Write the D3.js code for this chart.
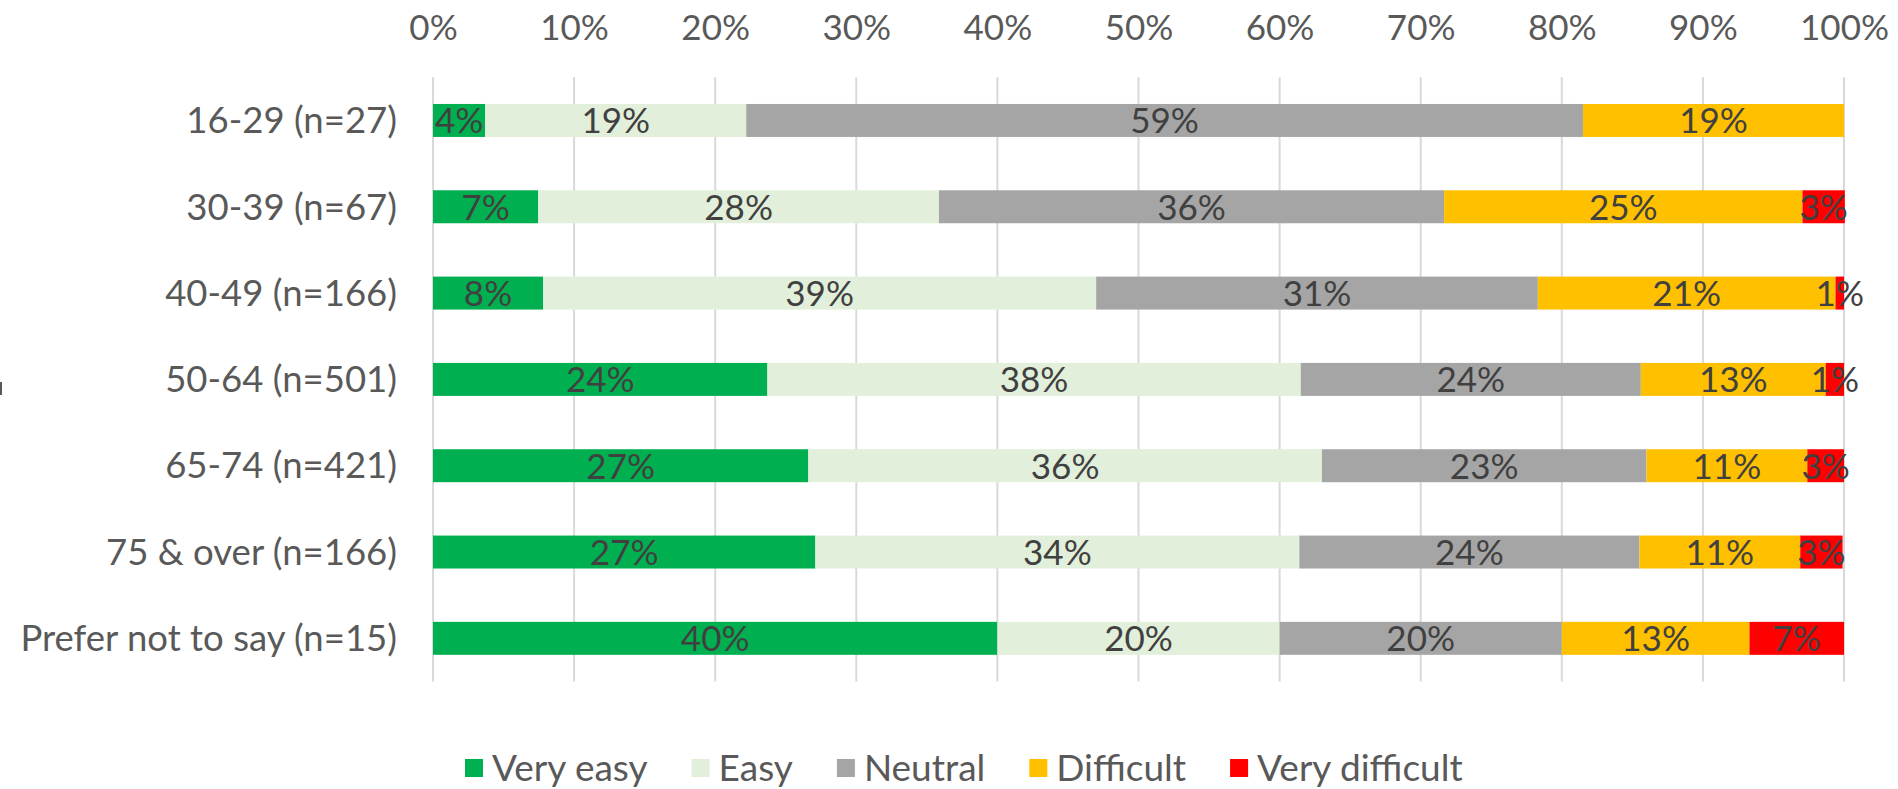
<!DOCTYPE html>
<html><head><meta charset="utf-8">
<script src="https://cdn.jsdelivr.net/npm/d3@7"></script>
<style>html,body{margin:0;padding:0;background:#fff;overflow:hidden}</style>
</head><body>
<svg id="chart" width="1898" height="789"></svg>
<script>
const categories = ["16-29 (n=27)","30-39 (n=67)","40-49 (n=166)","50-64 (n=501)","65-74 (n=421)","75 & over (n=166)","Prefer not to say (n=15)"];
const seriesNames = ["Very easy","Easy","Neutral","Difficult","Very difficult"];
const veryEasy      = [3.7, 7.46, 7.8, 23.7, 26.6, 27.1, 40.0];
const easy          = [18.5, 28.4, 39.2, 37.8, 36.4, 34.3, 20.0];
const neutral       = [59.3, 35.8, 31.3, 24.1, 23.0, 24.1, 20.0];
const difficult     = [18.5, 25.4, 21.1, 13.1, 11.4, 11.4, 13.3];
const veryDifficult = [0.0, 3.0, 0.6, 1.3, 2.6, 3.0, 6.7];
const tickValues = [0,10,20,30,40,50,60,70,80,90,100];
const colors = ["#00B050","#E2EFDA","#A5A5A5","#FFC000","#FF0000"];

const FONT = "Lato, 'Open Sans', sans-serif";
const FS = 35;
const FS_CAT = 36.5;
const FS_LEG = 37;
const svg = d3.select("#chart");
const plot = {left:433, right:1844, top:77.3, bottom:681.5};

const x = d3.scaleLinear().domain([0,100]).range([plot.left, plot.right]);
const y = d3.scaleBand().domain(categories).range([plot.top, plot.bottom]).paddingInner(0.618).paddingOuter(0.309);

const rows = categories.map((c,i)=>({cat:c, "Very easy":veryEasy[i], "Easy":easy[i], "Neutral":neutral[i], "Difficult":difficult[i], "Very difficult":veryDifficult[i]}));
const stacked = d3.stack().keys(seriesNames)(rows);

// gridlines
svg.append("g").selectAll("line").data(tickValues).join("line")
  .attr("x1", d=>x(d)).attr("x2", d=>x(d))
  .attr("y1", plot.top).attr("y2", plot.bottom)
  .attr("stroke", "#D9D9D9").attr("stroke-width", 2);

// top axis labels
const xAxis = d3.axisTop(x).tickValues(tickValues).tickFormat(d=>d+"%").tickSize(0).tickPadding(0);
const gx = svg.append("g").attr("transform", "translate(0,40)").call(xAxis);
gx.select(".domain").remove();
gx.selectAll("text").attr("font-family", FONT).attr("font-size", FS).attr("fill", "#595959");

// category labels
const yAxis = d3.axisLeft(y).tickSize(0).tickPadding(0);
const gy = svg.append("g").attr("transform", "translate(397,0)").call(yAxis);
gy.select(".domain").remove();
gy.selectAll("text").attr("font-family", FONT).attr("font-size", FS_CAT).attr("fill", "#595959").attr("dy","0.35em");

// bars
const groups = svg.append("g").selectAll("g").data(stacked).join("g")
  .attr("fill", (d,i)=>colors[i]);
groups.selectAll("rect").data(d=>d.filter(p=>p[1]-p[0]>0)).join("rect")
  .attr("x", d=>x(d[0])).attr("width", d=>x(d[1])-x(d[0]))
  .attr("y", d=>y(d.data.cat)).attr("height", y.bandwidth());

// data labels
const lg = svg.append("g");
stacked.forEach(s=>{
  s.forEach(p=>{
    const v = p[1]-p[0];
    if (v <= 0) return;
    lg.append("text")
      .attr("x", x((p[0]+p[1])/2))
      .attr("y", y(p.data.cat)+y.bandwidth()/2)
      .attr("dy","0.37em")
      .attr("text-anchor","middle")
      .attr("font-family", FONT).attr("font-size", FS).attr("fill","#404040")
      .text(Math.round(v)+"%");
  });
});

// legend
const legend = svg.append("g").attr("transform","translate(465,768)");
let lx = 0;
seriesNames.forEach((name,i)=>{
  const g = legend.append("g").attr("transform",`translate(${lx},0)`);
  g.append("rect").attr("x",0).attr("y",-9).attr("width",18).attr("height",18).attr("fill",colors[i]);
  const t = g.append("text").attr("x",27).attr("y",0).attr("dy","0.35em")
    .attr("font-family",FONT).attr("font-size",FS_LEG).attr("fill","#595959").text(name);
  lx += 27 + t.node().getComputedTextLength() + 44;
});

// small edge artifact at left
svg.append("rect").attr("x",0).attr("y",382).attr("width",2).attr("height",13).attr("fill","#595959");
</script>
</body></html>
